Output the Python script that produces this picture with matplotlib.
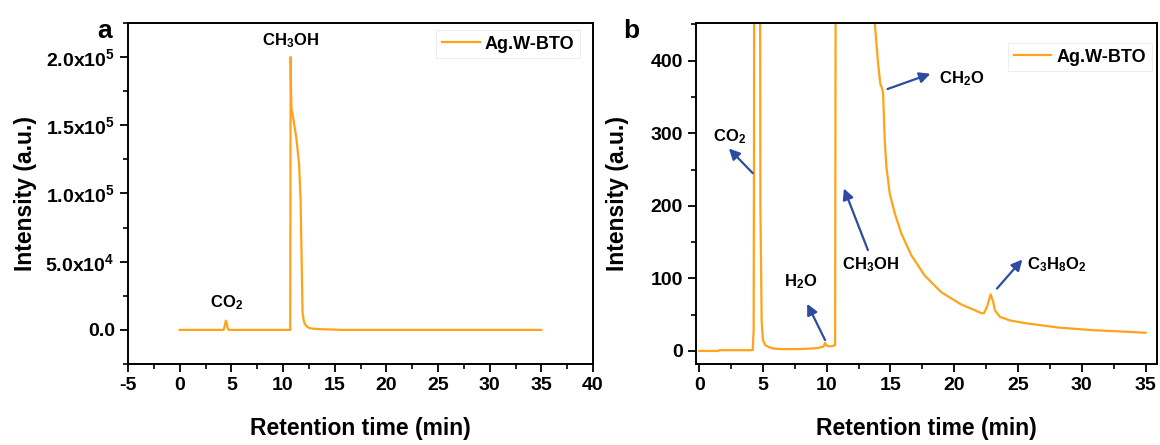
import matplotlib
matplotlib.use('Agg')
import matplotlib.pyplot as plt
from matplotlib.ticker import MultipleLocator, FixedLocator, FixedFormatter

plt.rcParams['font.family'] = ['Liberation Sans', 'DejaVu Sans']
plt.rcParams['font.weight'] = 'bold'
plt.rcParams['axes.unicode_minus'] = False
plt.rcParams['mathtext.fontset'] = 'custom'
plt.rcParams['mathtext.rm'] = 'Liberation Sans:bold'
plt.rcParams['mathtext.it'] = 'Liberation Sans:bold'
plt.rcParams['mathtext.bf'] = 'Liberation Sans:bold'
plt.rcParams['mathtext.default'] = 'rm'

# ---- GC trace, full scale (panel a) ----
time_a = [0.0, 4.25, 4.38, 4.47, 4.55, 4.65, 4.75, 10.70, 10.74, 10.78, 10.82,
          11.00, 11.30, 11.56, 11.70, 11.79, 11.89, 12.00, 12.11, 12.30, 12.60,
          13.20, 14.00, 14.80, 15.50, 35.0]
inten_a = [0, 0, 3500, 6800, 5000, 1200, 0, 0, 200000, 175000, 162000,
           155000, 140000, 121000, 96000, 57000, 13000, 7000, 4500, 2500, 1200,
           700, 400, 300, 0, 0]

# ---- same trace, low intensity region (panel b) ----
time_b = [0.0, 1.50, 1.55, 4.20, 4.27, 4.30, 4.35, 4.45, 4.55, 4.65, 4.72,
          4.80, 4.90, 5.00, 5.18, 5.50, 5.83, 6.50, 7.50, 8.50, 9.30, 9.75,
          9.87, 9.97, 10.13, 10.40, 10.66, 10.70, 10.74, 10.82, 11.00, 11.30,
          11.56, 11.70, 11.79, 11.89, 12.00, 12.11, 12.30, 12.60, 13.20, 13.77,
          14.02, 14.20, 14.34, 14.42, 14.55, 14.68, 14.94, 15.33, 15.85, 16.63,
          17.68, 18.98, 20.55, 21.50, 22.14, 22.33, 22.60, 22.85, 23.05, 23.19,
          23.58, 24.36, 25.67, 28.28, 30.89, 33.80, 35.0]
inten_b = [0, 0, 1, 1, 30, 300, 2000, 5500, 6800, 4000, 1200,
           200, 40, 15, 8, 5, 3.3, 2.5, 2.5, 3, 4, 6,
           11, 8, 6.4, 6.5, 8, 500, 200000, 162000, 155000, 140000,
           121000, 96000, 57000, 13000, 7000, 4500, 2500, 1200, 700, 452,
           398, 368, 362, 355, 290, 254, 217, 190, 162, 132,
           104, 81, 64, 57, 52, 52, 62, 78, 68, 56,
           47, 42, 38, 32, 28.6, 26.2, 25]

a_yticks = [0, 50000, 100000, 150000, 200000]
a_yticklabels = ['0.0', '5.0x10$^4$', '1.0x10$^5$', '1.5x10$^5$', '2.0x10$^5$']
a_xticks = [-5, 0, 5, 10, 15, 20, 25, 30, 35, 40]
b_yticks = [0, 100, 200, 300, 400]
b_xticks = [0, 5, 10, 15, 20, 25, 30, 35]

line_c = '#FFA31A'
arrow_c = '#2E4C9F'
lbl = 'Ag.W-BTO'

fig = plt.figure(figsize=(11.6, 4.45), dpi=100)
ax1 = fig.add_axes([128/1160, 81/445, 465/1160, 341/445])
ax2 = fig.add_axes([696/1160, 81/445, 461/1160, 341/445])


def style(ax):
    for s in ax.spines.values():
        s.set_linewidth(1.4)
    ax.tick_params(which='major', direction='out', length=6, width=1.3,
                   labelsize=14, top=False, right=False)
    ax.tick_params(which='minor', direction='out', length=3.5, width=1.2,
                   top=False, right=False)
    for t in ax.get_xticklabels() + ax.get_yticklabels():
        t.set_fontweight('bold')
    ax.set_xlabel('Retention time (min)', fontsize=16.5, fontweight='bold')
    ax.set_ylabel('Intensity (a.u.)', fontsize=16.5, fontweight='bold')


# panel a
ax1.plot(time_a, inten_a, color=line_c, lw=1.6, label=lbl)
ax1.set_xlim(-5, 40)
ax1.set_ylim(-25000, 225000)
ax1.xaxis.set_major_locator(FixedLocator(a_xticks))
ax1.xaxis.set_minor_locator(MultipleLocator(2.5))
ax1.yaxis.set_major_locator(FixedLocator(a_yticks))
ax1.yaxis.set_major_formatter(FixedFormatter(a_yticklabels))
ax1.yaxis.set_minor_locator(MultipleLocator(25000))
style(ax1)
ax1.xaxis.set_label_coords(0.5, -0.156)
ax1.yaxis.set_label_coords(-0.196, 0.5)
ax1.text(2.9, 16700, 'CO$_2$', fontsize=12, ha='left', va='baseline')
ax1.text(7.97, 208600, 'CH$_3$OH', fontsize=12, ha='left', va='baseline')
leg = ax1.legend(loc='upper right', bbox_to_anchor=(0.972, 0.979), fontsize=13,
                 handlelength=2.1, handletextpad=0.3, borderpad=0.3,
                 borderaxespad=0, fancybox=False, framealpha=1)
leg.get_frame().set_edgecolor('#eeeeee')
leg.get_frame().set_linewidth(0.8)

# panel b
ax2.plot(time_b, inten_b, color=line_c, lw=1.6, label=lbl)
ax2.set_xlim(-0.25, 35.9)
ax2.set_ylim(-18, 452)
ax2.xaxis.set_major_locator(FixedLocator(b_xticks))
ax2.xaxis.set_minor_locator(MultipleLocator(2.5))
ax2.yaxis.set_major_locator(FixedLocator(b_yticks))
ax2.yaxis.set_minor_locator(MultipleLocator(50))
style(ax2)
ax2.xaxis.set_label_coords(0.5, -0.156)
ax2.yaxis.set_label_coords(-0.146, 0.5)

arr = dict(arrowstyle='-|>', color=arrow_c, lw=1.6, mutation_scale=16,
           shrinkA=0, shrinkB=0)
ax2.annotate('', xy=(2.33, 279), xytext=(4.2, 245), arrowprops=arr)
ax2.annotate('', xy=(8.47, 65), xytext=(9.87, 15), arrowprops=arr)
ax2.annotate('', xy=(11.35, 224), xytext=(13.23, 139), arrowprops=arr)
ax2.annotate('', xy=(18.13, 382), xytext=(14.77, 361), arrowprops=arr)
ax2.annotate('', xy=(25.34, 126), xytext=(23.35, 86), arrowprops=arr)
ax2.text(1.07, 288.6, 'CO$_2$', fontsize=12, ha='left', va='baseline')
ax2.text(6.66, 89.3, 'H$_2$O', fontsize=12, ha='left', va='baseline')
ax2.text(11.21, 112.4, 'CH$_3$OH', fontsize=12, ha='left', va='baseline')
ax2.text(18.77, 369, 'CH$_2$O', fontsize=12, ha='left', va='baseline')
ax2.text(25.68, 112.4, 'C$_3$H$_8$O$_2$', fontsize=12, ha='left', va='baseline')
leg2 = ax2.legend(loc='upper right', bbox_to_anchor=(0.989, 0.941), fontsize=13,
                  handlelength=2.1, handletextpad=0.3, borderpad=0.3,
                  borderaxespad=0, fancybox=False, framealpha=1)
leg2.get_frame().set_edgecolor('#eeeeee')
leg2.get_frame().set_linewidth(0.8)

fig.text(105/1160, 1 - 31/445, 'a', fontsize=19, fontweight='bold',
         ha='center', va='center')
fig.text(631/1160, 1 - 31/445, 'b', fontsize=19, fontweight='bold',
         ha='center', va='center')

fig.savefig('out.png', dpi=100)
